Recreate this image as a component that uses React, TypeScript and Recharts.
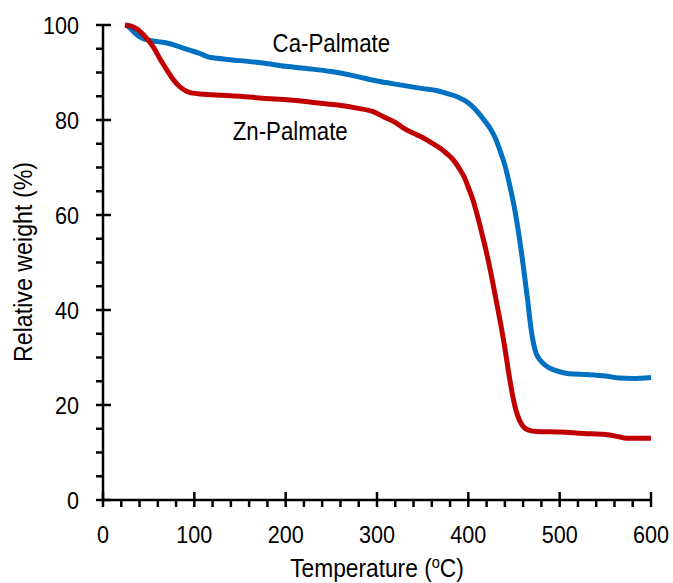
import React from 'react';
import { LineChart, Line, XAxis, YAxis, ReferenceDot } from 'recharts';

// Ca-Palmate TGA curve (temperature °C, relative weight %)
const caTemp = [25, 30, 35, 42, 50, 60, 70, 84, 95, 106, 115, 125, 150, 175, 200, 225, 250, 275, 300, 325, 350, 365, 376, 385, 393, 400, 406, 412, 418, 424, 430, 435, 440, 445, 450, 455, 460, 465, 468, 471, 474, 478, 484, 492, 500, 510, 530, 550, 565, 580, 600];
const caWeight = [100, 99.3, 98.3, 97.3, 96.8, 96.5, 96.2, 95.4, 94.7, 94, 93.3, 93, 92.5, 92, 91.3, 90.8, 90.2, 89.3, 88.2, 87.4, 86.6, 86.2, 85.6, 85.1, 84.4, 83.6, 82.6, 81.3, 79.8, 78.2, 76, 73.4, 70.5, 66.5, 62, 56.3, 49.5, 42, 37, 33.3, 31, 29.6, 28.4, 27.5, 27, 26.6, 26.4, 26.1, 25.7, 25.6, 25.8];

// Zn-Palmate TGA curve
const znTemp = [24, 30, 37, 45, 55, 62, 70, 77, 84, 92, 100, 120, 150, 175, 205, 230, 255, 278, 295, 307, 320, 330, 340, 350, 358, 368, 376, 384, 391, 396, 400, 405, 410, 415, 420, 425, 430, 435, 440, 444, 448, 452, 456, 460, 466, 475, 500, 526, 550, 565, 573, 600];
const znWeight = [100, 99.8, 99.2, 97.8, 95.4, 93, 90.5, 88.5, 87, 86, 85.6, 85.3, 85, 84.6, 84.2, 83.7, 83.2, 82.5, 81.8, 80.7, 79.5, 78.2, 77.2, 76.3, 75.4, 74.2, 73, 71.5, 69.5, 67.8, 65.8, 63.2, 59.8, 56, 52, 47.5, 42.5, 37.5, 32, 27, 22.5, 19, 16.8, 15.5, 14.7, 14.4, 14.3, 14, 13.8, 13.3, 13, 13];

const xTicks = [0, 20, 40, 60, 80, 100, 120, 140, 160, 180, 200, 220, 240, 260, 280, 300, 320, 340, 360, 380, 400, 420, 440, 460, 480, 500, 520, 540, 560, 580, 600];
const yTicks = [0, 5, 10, 15, 20, 25, 30, 35, 40, 45, 50, 55, 60, 65, 70, 75, 80, 85, 90, 95, 100];

const caData = caTemp.map((t, i) => ({ t, w: caWeight[i] }));
const znData = znTemp.map((t, i) => ({ t, w: znWeight[i] }));

const FONT = "'Liberation Sans', Arial, sans-serif";

// narrow-looking text: the original uses a condensed face
const NarrowText = ({ x, y, size, sx, anchor = 'middle', rotate = 0, children }: any) => (
  <text
    transform={`translate(${x} ${y}) rotate(${rotate}) scale(${sx} 1)`}
    x={0}
    y={0}
    textAnchor={anchor}
    fontSize={size}
    fontFamily={FONT}
    fill="#000"
  >
    {children}
  </text>
);

const XTick = (props: any) => {
  const { x, y, payload } = props;
  const major = payload.value % 100 === 0;
  return (
    <g>
      <line x1={x} x2={x} y1={major ? y - 8 : y} y2={y + 7} stroke="#000" strokeWidth={2.5} />
      {major && (
        <NarrowText x={x} y={y + 43} size={23.5} sx={0.92}>
          {payload.value}
        </NarrowText>
      )}
    </g>
  );
};

const YTick = (props: any) => {
  const { x, y, payload } = props;
  const major = payload.value % 20 === 0;
  return (
    <g>
      <line x1={x - 7} x2={major ? x + 8 : x} y1={y} y2={y} stroke="#000" strokeWidth={2.5} />
      {major && (
        <NarrowText x={x - 24} y={y + 8.5} size={23.5} sx={0.92} anchor="end">
          {payload.value}
        </NarrowText>
      )}
    </g>
  );
};

const seriesLabel = (text: string) => (props: any) => {
  const vb = props.viewBox || {};
  const cx = vb.cx ?? vb.x + (vb.width || 0) / 2;
  const cy = vb.cy ?? vb.y + (vb.height || 0) / 2;
  return (
    <NarrowText x={cx} y={cy + 9} size={25} sx={0.89}>
      {text}
    </NarrowText>
  );
};

const App: React.FC = () => {
  return (
    <div style={{ position: 'absolute', left: 0, top: 0, width: 673, height: 583, background: '#fff' }}>
      <LineChart width={673} height={583} margin={{ top: 25, right: 22, left: 0, bottom: 0 }}>
        <XAxis
          dataKey="t"
          type="number"
          domain={[0, 600]}
          ticks={xTicks}
          interval={0}
          height={83}
          tickSize={0}
          tickMargin={0}
          tickLine={false}
          tick={<XTick />}
          axisLine={{ stroke: '#000', strokeWidth: 2.5 }}
          allowDuplicatedCategory={false}
          label={{
            content: () => (
              <NarrowText x={377} y={577} size={25} sx={0.91}>
                Temperature (<tspan fontSize={16} dy={-9}>o</tspan><tspan dy={9}>C)</tspan>
              </NarrowText>
            ),
          }}
        />
        <YAxis
          type="number"
          domain={[0, 100]}
          ticks={yTicks}
          interval={0}
          width={103}
          tickSize={0}
          tickMargin={0}
          tickLine={false}
          tick={<YTick />}
          axisLine={{ stroke: '#000', strokeWidth: 2.5 }}
          label={{
            content: () => (
              <NarrowText x={32} y={262} size={25} sx={0.93} rotate={-90}>
                Relative weight (%)
              </NarrowText>
            ),
          }}
        />
        <Line
          data={caData}
          dataKey="w"
          type="monotone"
          stroke="#0070C0"
          strokeWidth={5}
          dot={false}
          isAnimationActive={false}
        />
        <Line
          data={znData}
          dataKey="w"
          type="monotone"
          stroke="#C00000"
          strokeWidth={5}
          dot={false}
          isAnimationActive={false}
        />
        <ReferenceDot x={250} y={96.3} r={0} fill="none" stroke="none" label={{ content: seriesLabel('Ca-Palmate') }} />
        <ReferenceDot x={205} y={77.7} r={0} fill="none" stroke="none" label={{ content: seriesLabel('Zn-Palmate') }} />
      </LineChart>
    </div>
  );
};

export default App;
